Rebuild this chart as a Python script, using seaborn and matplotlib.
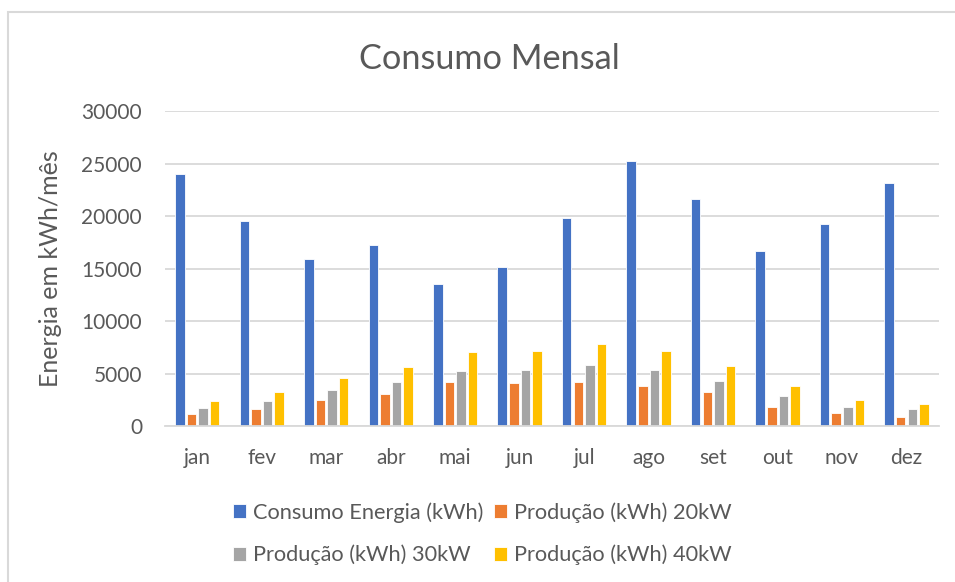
import numpy as np
import pandas as pd
import matplotlib
matplotlib.use("Agg")
import matplotlib.pyplot as plt
import seaborn as sns
from matplotlib.patches import Rectangle

meses = ["jan", "fev", "mar", "abr", "mai", "jun", "jul", "ago", "set", "out", "nov", "dez"]
consumo = [23970, 19530, 15960, 17270, 13570, 15190, 19820, 25280, 21670, 16630, 19280, 23140]
prod_20kw = [1180, 1660, 2490, 3060, 4180, 4120, 4210, 3800, 3260, 1820, 1250, 890]
prod_30kw = [1760, 2430, 3480, 4210, 5270, 5360, 5840, 5330, 4280, 2870, 1850, 1660]
prod_40kw = [2390, 3260, 4600, 5650, 7090, 7180, 7790, 7120, 5680, 3830, 2490, 2140]

series = ["Consumo Energia (kWh)", "Produção (kWh) 20kW", "Produção (kWh) 30kW", "Produção (kWh) 40kW"]
cores = ["#4472C4", "#ED7D31", "#A5A5A5", "#FFC000"]

df = pd.DataFrame({"mes": meses, series[0]: consumo, series[1]: prod_20kw,
                   series[2]: prod_30kw, series[3]: prod_40kw})
df_long = df.melt(id_vars="mes", var_name="serie", value_name="energia")

sns.set_theme(style="white")
plt.rcParams["font.family"] = ["Lato", "DejaVu Sans"]
texto = "#595959"

fig = plt.figure(figsize=(9.55, 5.82), dpi=100)
ax = fig.add_axes([0.1728, 0.268, 0.8102, 0.541])

sns.barplot(data=df_long, x="mes", y="energia", hue="serie", hue_order=series,
            palette=cores, order=meses, width=0.72, gap=0.18, ax=ax,
            saturation=1, edgecolor="white", linewidth=0.6)

ax.set_ylim(0, 30000)
ax.set_yticks(range(0, 30001, 5000))
ax.yaxis.grid(True, color="#D9D9D9", linewidth=1.3)
ax.set_axisbelow(True)
for s in ["top", "right", "left"]:
    ax.spines[s].set_visible(False)
ax.spines["bottom"].set_color("#D9D9D9")
ax.spines["bottom"].set_linewidth(1.3)
ax.tick_params(axis="both", length=0, labelsize=15, colors=texto)
ax.tick_params(axis="x", pad=16)
ax.tick_params(axis="y", pad=16.5)
ax.set_xlabel("")
ax.set_ylabel("Energia em kWh/mês", fontsize=18, color=texto, labelpad=14)

fig.text(0.512, 0.898, "Consumo Mensal", ha="center", va="center", fontsize=24.7, color=texto)

# legenda em linhas: consumo, 20kW / 30kW, 40kW
handles, labels = ax.get_legend_handles_labels()
ordem = [0, 2, 1, 3]
ax.legend([handles[i] for i in ordem], [labels[i] for i in ordem], ncol=2,
          loc="upper center", bbox_to_anchor=(0.41, -0.18), frameon=False,
          fontsize=15.7, labelcolor=texto, handlelength=0.6, handleheight=0.6,
          handletextpad=0.3, columnspacing=0.5, labelspacing=1.0)

# borda do gráfico
fig.patches.append(Rectangle((8 / 955, -0.1), 1.2, 1 - 12 / 582 + 0.1,
                             transform=fig.transFigure, fill=False,
                             edgecolor="#D9D9D9", linewidth=1.5))

fig.savefig("out.png", dpi=100)
